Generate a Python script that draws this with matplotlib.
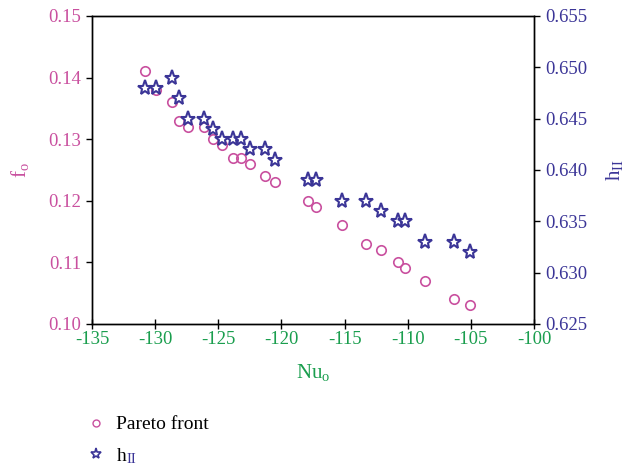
import matplotlib
matplotlib.use("Agg")
import matplotlib.pyplot as plt
from matplotlib.lines import Line2D

plt.rcParams['font.family'] = ['Liberation Serif', 'DejaVu Serif']
plt.rcParams['mathtext.fontset'] = 'custom'
plt.rcParams['mathtext.rm'] = 'Liberation Serif'
plt.rcParams['mathtext.it'] = 'Liberation Serif'

nu_o = [-130.8, -129.9, -128.7, -128.1, -127.4, -126.1, -125.4, -124.7, -123.8, -123.2,
        -122.5, -121.3, -120.5, -117.9, -117.3, -115.2, -113.3, -112.1, -110.8, -110.2,
        -108.6, -106.3, -105.1]
f_o = [0.141, 0.138, 0.136, 0.133, 0.132, 0.132, 0.130, 0.129, 0.127, 0.127,
       0.126, 0.124, 0.123, 0.120, 0.119, 0.116, 0.113, 0.112, 0.110, 0.109,
       0.107, 0.104, 0.103]
h_ii = [0.648, 0.648, 0.649, 0.647, 0.645, 0.645, 0.644, 0.643, 0.643, 0.643,
        0.642, 0.642, 0.641, 0.639, 0.639, 0.637, 0.637, 0.636, 0.635, 0.635,
        0.633, 0.633, 0.632]

x_ticks = [-135, -130, -125, -120, -115, -110, -105, -100]
f_ticks = [0.10, 0.11, 0.12, 0.13, 0.14, 0.15]
h_ticks = [0.625, 0.630, 0.635, 0.640, 0.645, 0.650, 0.655]

PINK = '#c9509f'
GREEN = '#1a9e4e'
BLUE = '#3b3597'

fig = plt.figure(figsize=(6.26, 4.68), dpi=100)
ax = fig.add_axes([0.147, 0.308, 0.706, 0.658])
ax2 = ax.twinx()

ax.plot(nu_o, f_o, linestyle='none', marker='o', markersize=6.8, markerfacecolor='none',
        markeredgecolor=PINK, markeredgewidth=1.2, zorder=3)
ax2.plot(nu_o, h_ii, linestyle='none', marker='*', markersize=11, markerfacecolor='white',
         markeredgecolor=BLUE, markeredgewidth=1.5, zorder=4)

ax.set_xlim(-135, -100)
ax.set_ylim(0.10, 0.15)
ax2.set_ylim(0.625, 0.655)
ax.set_xticks(x_ticks)
ax.set_xticklabels([str(v) for v in x_ticks])
ax.set_yticks(f_ticks)
ax.set_yticklabels([f"{v:.2f}" for v in f_ticks])
ax2.set_yticks(h_ticks)
ax2.set_yticklabels([f"{v:.3f}" for v in h_ticks])

fs = 13.5
ax.tick_params(axis='x', direction='inout', length=7, width=1, colors='black', labelcolor=GREEN,
               labelsize=fs, pad=2)
ax.tick_params(axis='y', direction='out', length=4, width=1, colors='black', labelcolor=PINK,
               labelsize=fs, pad=4)
ax2.tick_params(axis='y', direction='out', length=4, width=1, colors='black', labelcolor=BLUE,
                labelsize=fs, pad=4)
for a in (ax, ax2):
    for s in a.spines.values():
        s.set_linewidth(1.0)
        s.set_color('black')

ax.set_xlabel(r'Nu$_\mathregular{o}$', color=GREEN, fontsize=15, labelpad=10)
ax.set_ylabel(r'f$_\mathregular{o}$', color=PINK, fontsize=15, labelpad=12)
ax2.set_ylabel(r'h$_\mathregular{II}$', color=BLUE, fontsize=15, labelpad=12, rotation=90)

handles = [
    Line2D([], [], linestyle='none', marker='o', markersize=5, markerfacecolor='none',
           markeredgecolor=PINK, markeredgewidth=1.0),
    Line2D([], [], linestyle='none', marker='*', markersize=8, markerfacecolor='white',
           markeredgecolor=BLUE, markeredgewidth=1.2),
]
leg = fig.legend(handles, ['Pareto front', 'h'], loc='upper left',
                 bbox_to_anchor=(0.127, 0.128), frameon=False, fontsize=14,
                 handlelength=0.9, handletextpad=0.6, labelspacing=0.72, borderaxespad=0)

fig.canvas.draw()
t = leg.get_texts()[1]
bb = t.get_window_extent()
fx = bb.x1 / fig.bbox.width + 0.001
fy = (bb.y0 - 1.0) / fig.bbox.height
fig.text(fx, fy, 'II', color=BLUE, fontsize=10.5, ha='left', va='bottom')

fig.savefig('out.png', dpi=100)
